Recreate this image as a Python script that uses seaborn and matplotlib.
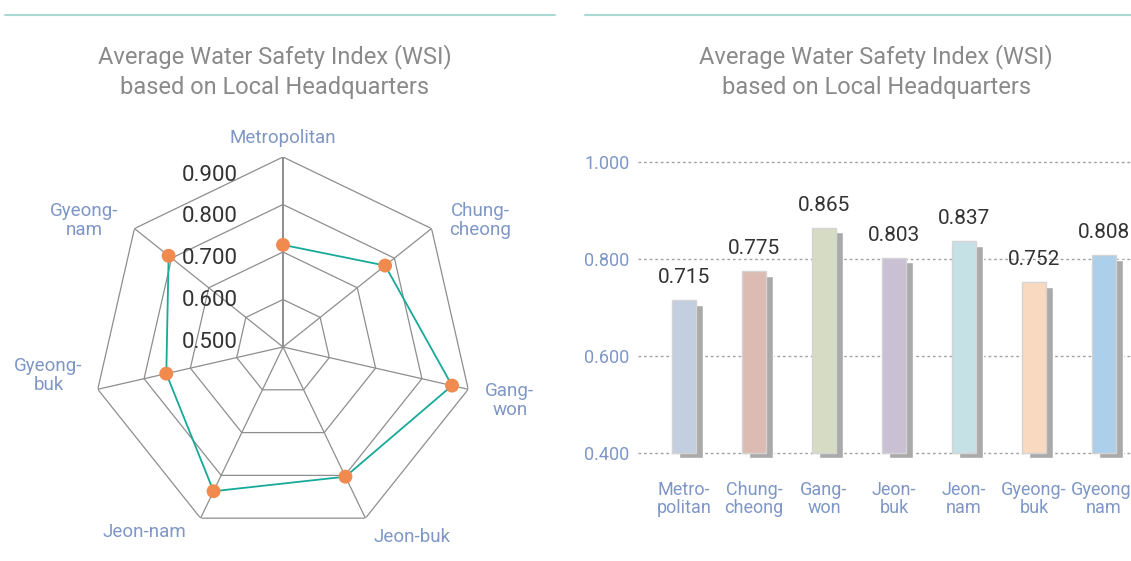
import numpy as np
import pandas as pd
import matplotlib
matplotlib.use("Agg")
import matplotlib.pyplot as plt
import matplotlib.transforms as mtransforms
from matplotlib.lines import Line2D
import seaborn as sns

# Data
regions = ["Metropolitan", "Chung-cheong", "Gang-won", "Jeon-buk",
           "Jeon-nam", "Gyeong-buk", "Gyeong-nam"]
radar_labels = ["Metropolitan", "Chung-\ncheong", "Gang-\nwon", "Jeon-buk",
                "Jeon-nam", "Gyeong-\nbuk", "Gyeong-\nnam"]
bar_labels = ["Metro-\npolitan", "Chung-\ncheong", "Gang-\nwon", "Jeon-\nbuk",
              "Jeon-\nnam", "Gyeong-\nbuk", "Gyeong-\nnam"]
wsi = [0.715, 0.775, 0.865, 0.803, 0.837, 0.752, 0.808]
radar_ticks = [0.5, 0.6, 0.7, 0.8, 0.9]
bar_ticks = [0.4, 0.6, 0.8, 1.0]
bar_colors = ["#c3cee1", "#dcbbb3", "#d5dcc3", "#c9c0d4",
              "#c6e1e5", "#f9d9bf", "#accfeb"]
title = "Average Water Safety Index (WSI)\nbased on Local Headquarters"

# where each radar label sits next to its outer corner (pixels, alignment)
label_place = [((0, 19), "center"), ((18, 8), "left"), ((17, -11), "left"),
               ((8, -19), "left"), ((-14, -14), "right"), ((-15, 14), "right"),
               ((-16, 8), "right")]

sns.set_style("white")
plt.rcParams["font.family"] = ["Roboto", "DejaVu Sans"]

W, H = 1131, 561
fig = plt.figure(figsize=(W / 100, H / 100), dpi=100)

label_blue = "#7f97c6"
grid_gray = "#8e8e8e"

# Radar chart
ax1 = fig.add_axes([93 / W, 24 / H, 380 / W, 380 / H], projection="polar")
n = len(regions)
theta = np.arange(n) * 2 * np.pi / n
ax1.set_theta_offset(np.pi / 2)
ax1.set_theta_direction(-1)
ax1.grid(False)
ax1.spines["polar"].set_visible(False)

ring_theta = np.append(theta, theta[0])
for r in radar_ticks[1:]:
    ax1.plot(ring_theta, [r] * (n + 1), color=grid_gray, lw=0.9, zorder=1)
for i, t in enumerate(theta):
    ax1.plot([t, t], [radar_ticks[0], radar_ticks[-1]], color=grid_gray,
             lw=1.4 if i == 0 else 0.9, zorder=1)

radar_df = pd.DataFrame({"theta": ring_theta, "wsi": wsi + [wsi[0]]})
sns.lineplot(data=radar_df, x="theta", y="wsi", sort=False, color="#17a999",
             lw=1.3, ax=ax1, zorder=3)
sns.scatterplot(x=theta, y=wsi, color="#f08a4f", s=100, edgecolor="none",
                ax=ax1, zorder=4)
ax1.set_ylim(radar_ticks[0], radar_ticks[-1])
ax1.set_xlabel("")
ax1.set_ylabel("")
ax1.set_xticks(theta)
ax1.set_xticklabels([])
ax1.set_yticks(radar_ticks)
ax1.set_yticklabels([])

for t, lab, (off, ha) in zip(theta, radar_labels, label_place):
    ax1.annotate(lab, xy=(t, radar_ticks[-1]), xytext=off,
                 textcoords="offset pixels", ha=ha, va="center",
                 multialignment="center", fontsize=13.5, color=label_blue,
                 linespacing=1.05, annotation_clip=False)

for v in radar_ticks:
    ax1.annotate(f"{v:.3f}", xy=(0, 0.5 + (v - 0.5) * 0.88 + 0.01),
                 xytext=(-45, 0), textcoords="offset pixels",
                 ha="right", va="center", fontsize=16, color="#333333")

# Bar chart
ax2 = fig.add_axes([638 / W, (H - 462.7) / H, 493 / W, 303 / H])
base = 0.4
bar_df = pd.DataFrame({"region": regions, "height": [v - base for v in wsi]})

sns.barplot(data=bar_df, x="region", y="height", bottom=base, color="#aaaaaa",
            width=0.336, saturation=1, errorbar=None, ax=ax2)
shift = mtransforms.ScaledTranslation(7 / 100, -4.5 / 100, fig.dpi_scale_trans)
for p in ax2.containers[0]:
    p.set_transform(ax2.transData + shift)

sns.barplot(data=bar_df, x="region", y="height", hue="region",
            palette=bar_colors, bottom=base, width=0.336, saturation=1,
            edgecolor="#d4d4d4", linewidth=1, errorbar=None, legend=False,
            ax=ax2)

for i, v in enumerate(wsi):
    ax2.annotate(f"{v:.3f}", xy=(i, v), xytext=(0, 13),
                 textcoords="offset pixels", ha="center", va="bottom",
                 fontsize=15, color="#333333")

ax2.set_xlim(-0.657, 6.386)
ax2.set_ylim(0.38, 1.005)
ax2.set_yticks(bar_ticks)
ax2.set_yticklabels([f"{v:.3f}" for v in bar_ticks])
ax2.set_xticks(range(n))
ax2.set_xticklabels(bar_labels, linespacing=1.05)
ax2.set_xlabel("")
ax2.set_ylabel("")
ax2.set_axisbelow(True)
ax2.yaxis.grid(True, linestyle=(0, (2, 2)), color="#a3a3a3", lw=1)
ax2.xaxis.grid(False)
for s in ax2.spines.values():
    s.set_visible(False)
ax2.tick_params(axis="x", length=0, pad=13, labelcolor=label_blue,
                labelsize=13)
ax2.tick_params(axis="y", length=0, pad=6, labelcolor=label_blue,
                labelsize=13)

# Titles and top rules
for cx in [275, 876]:
    fig.text(cx / W, 1 - 71.5 / H, title, ha="center", va="center",
             fontsize=17, color="#8a8a8a", linespacing=1.42)
fig.add_artist(Line2D([5 / W, 555 / W], [1 - 15 / H] * 2, color="#a8dbd4", lw=1.5))
fig.add_artist(Line2D([585 / W, 1.0], [1 - 15 / H] * 2, color="#a8dbd4", lw=1.5))

fig.savefig("out.png", dpi=100)
